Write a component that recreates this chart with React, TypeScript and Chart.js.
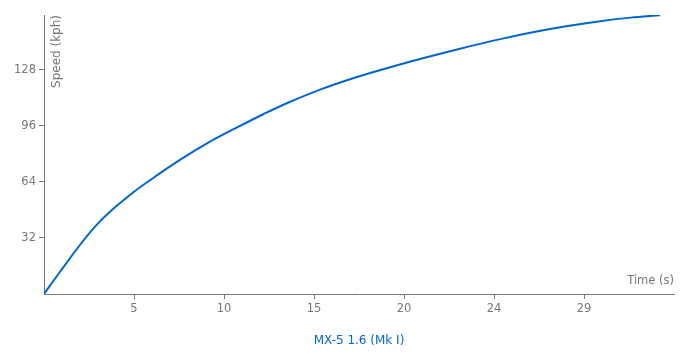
import React, { useEffect, useRef } from "react";
import { Chart, registerables } from "chart.js";

Chart.register(...registerables);

const seriesName = "MX-5 1.6 (Mk I)";
const timeValues = [0, 0.87, 1.95, 2.77, 3.58, 4.94, 5.75, 7.38, 9.01, 10.64, 11.9, 13.18, 14.99, 16.78, 18.6, 20.41, 22.75, 24.58, 26.4, 28.18, 30.0, 31.84, 33.44];
const speedValues = [0, 12.7, 28.0, 38.5, 47.0, 58.8, 65.0, 76.6, 87.0, 96.0, 102.7, 109.0, 116.8, 123.3, 129.0, 134.3, 140.6, 145.2, 149.3, 152.7, 155.6, 157.9, 159.3];
const xMax = 34.2;
const xTickStep = xMax / 7;
const xTickLabels = ["5", "10", "15", "20", "24", "29"];
const yTickValues = [32, 64, 96, 128];
const yMax = 159.4;
const xTitle = "Time (s)";
const yTitle = "Speed (kph)";

const AXIS = "#777777";
const LINE = "#0066cc";
const FONT = "'DejaVu Sans', sans-serif";

export default function App() {
  const ref = useRef<HTMLCanvasElement | null>(null);
  useEffect(() => {
    document.body.style.margin = "0";
    const canvas = ref.current;
    if (!canvas) return;
    const textPlugin = {
      id: "texts",
      afterDraw(chart: any) {
        const ctx = chart.ctx;
        const area = chart.chartArea;
        ctx.save();
        ctx.fillStyle = AXIS;
        ctx.font = `11.5px ${FONT}`;
        ctx.textAlign = "right";
        ctx.textBaseline = "middle";
        ctx.fillText(xTitle, area.right, area.bottom - 13);
        ctx.font = `12px ${FONT}`;
        ctx.translate(area.left + 13, area.top);
        ctx.rotate(-Math.PI / 2);
        ctx.textAlign = "right";
        ctx.fillText(yTitle, 0, 0);
        ctx.restore();
        ctx.save();
        ctx.fillStyle = LINE;
        ctx.font = `12px ${FONT}`;
        ctx.textAlign = "center";
        ctx.textBaseline = "middle";
        ctx.fillText(seriesName, (area.left + area.right) / 2, 341);
        ctx.restore();
      },
    };
    const chart = new Chart(canvas, {
      type: "line",
      data: {
        datasets: [
          {
            label: seriesName,
            data: timeValues.map((t, i) => ({ x: t, y: speedValues[i] })),
            borderColor: LINE,
            borderWidth: 2,
            pointRadius: 0,
            fill: false,
            tension: 0.35,
          },
        ],
      },
      options: {
        animation: false,
        responsive: false,
        maintainAspectRatio: false,
        layout: { padding: { top: 15, right: 26, left: 0, bottom: 0 } },
        plugins: { legend: { display: false }, tooltip: { enabled: false } },
        scales: {
          x: {
            type: "linear",
            min: 0,
            max: xMax,
            afterBuildTicks: (scale: any) => {
              scale.ticks = xTickLabels.map((_, k) => ({ value: (k + 1) * xTickStep }));
            },
            afterFit: (scale: any) => {
              scale.height = 66;
            },
            ticks: {
              color: AXIS,
              font: { family: FONT, size: 11.5 },
              padding: 3,
              maxRotation: 0,
              autoSkip: false,
              callback: (_v: any, i: number) => xTickLabels[i],
            },
            grid: { drawOnChartArea: false, color: AXIS, tickLength: 5 },
            border: { color: AXIS, width: 1 },
          },
          y: {
            type: "linear",
            min: 0,
            max: yMax,
            afterBuildTicks: (scale: any) => {
              scale.ticks = yTickValues.map((v) => ({ value: v }));
            },
            afterFit: (scale: any) => {
              scale.width = 44;
            },
            ticks: {
              color: AXIS,
              font: { family: FONT, size: 11.5 },
              padding: 3,
              autoSkip: false,
              callback: (v: any) => String(v),
            },
            grid: { drawOnChartArea: false, color: AXIS, tickLength: 5 },
            border: { color: AXIS, width: 1 },
          },
        },
      },
      plugins: [textPlugin],
    } as any);
    return () => chart.destroy();
  }, []);
  return (
    <div style={{ width: 700, height: 360 }}>
      <canvas ref={ref} width={700} height={360} style={{ display: "block" }} />
    </div>
  );
}
